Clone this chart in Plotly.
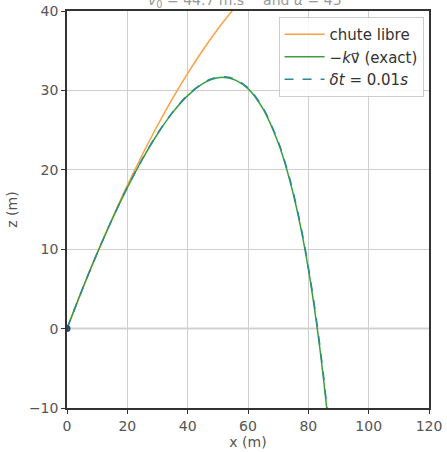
import plotly.graph_objects as go

# Free fall (no drag) trajectory
x_free = [0, 5, 10, 15, 20, 25, 30, 35, 40, 45, 50, 55]
z_free = [0, 4.88, 9.51, 13.90, 18.04, 21.93, 25.58, 28.99, 32.14, 35.06, 37.73, 40.15]

# Linear drag, exact solution
x_drag = [0, 5, 10, 15, 20, 25, 30, 35, 40, 45, 48, 50, 52, 54, 56, 60, 65, 70, 72, 74, 76, 78, 80, 81, 82, 83, 84, 85, 86, 86.1]
z_drag = [0, 4.87, 9.48, 13.78, 17.75, 21.34, 24.51, 27.20, 29.34, 30.84, 31.39, 31.59, 31.64, 31.54, 31.26, 30.22, 27.66, 23.41,
          21.14, 18.47, 15.35, 11.73, 7.53, 5.17, 2.65, -0.09, -3.04, -6.24, -9.69, -10.05]

# Euler scheme, dt = 0.01 s
x_euler = [0, 5, 10, 15, 20, 25, 30, 35, 40, 45, 48, 50, 52, 54, 56, 60, 65, 70, 72, 74, 76, 78, 80, 81, 82, 83, 84, 85, 86, 86.3]
z_euler = [0, 4.87, 9.49, 13.79, 17.77, 21.37, 24.55, 27.25, 29.40, 30.91, 31.46, 31.67, 31.72, 31.63, 31.36, 30.32, 27.78, 23.56,
           21.30, 18.65, 15.55, 11.96, 7.79, 5.45, 2.96, 0.25, -2.67, -5.83, -9.24, -10.05]

x_ticks = [0, 20, 40, 60, 80, 100, 120]
z_ticks = [-10, 0, 10, 20, 30, 40]

FONT = "DejaVu Sans"
TXT = "#555555"

fig = go.Figure()
fig.add_trace(go.Scatter(x=x_free, y=z_free, mode="lines", name="chute libre",
                         line=dict(color="#ffa040", width=1.5), line_shape="spline"))
fig.add_trace(go.Scatter(x=x_drag, y=z_drag, mode="lines", name="−<i>k</i>v⃗ (exact)",
                         line=dict(color="#3aa03a", width=1.5), line_shape="spline"))
fig.add_trace(go.Scatter(x=x_euler, y=z_euler, mode="lines", name="<i>δt</i> = 0.01<i>s</i>",
                         line=dict(color="#2a8a96", width=1.5, dash="dash"), line_shape="spline"))
fig.add_trace(go.Scatter(x=[0], y=[0], mode="markers", showlegend=False,
                         marker=dict(color="#1f4f7f", size=7)))

fig.add_hline(y=0, line=dict(color="#aaaaaa", width=1.5), layer="below")

fig.update_layout(
    width=447, height=452,
    margin=dict(l=67, r=18, t=11, b=44, autoexpand=False),
    paper_bgcolor="white", plot_bgcolor="white",
    font=dict(family=FONT, size=14, color=TXT),
    showlegend=True,
    legend=dict(x=0.985, y=0.985, xanchor="right", yanchor="top",
                bgcolor="rgba(255,255,255,0.85)", bordercolor="#cccccc", borderwidth=1,
                font=dict(family=FONT, size=15, color="#333333"),
                itemwidth=40, tracegroupgap=0),
    annotations=[dict(text="<i>v</i><sub>0</sub> = 44.7 m.s<sup>−1</sup> and <i>α</i> = 45°",
                      xref="paper", yref="paper", x=0.5, y=1, xanchor="center", yanchor="bottom",
                      yshift=-1, showarrow=False, font=dict(family=FONT, size=14, color="#999999"))],
)
fig.update_xaxes(range=[0, 120], tickvals=x_ticks,
                 title=dict(text="x (m)", standoff=2, font=dict(size=14, color="#555555")),
                 automargin=False,
                 showgrid=True, gridcolor="#cfcfcf", gridwidth=1,
                 showline=True, linecolor="#333333", linewidth=1.5, mirror=True,
                 ticks="outside", ticklen=4, tickcolor="#333333", zeroline=False,
                 tickfont=dict(size=14, color=TXT))
fig.update_yaxes(range=[-10, 40], tickvals=z_ticks,
                 title=dict(text="z (m)", standoff=8, font=dict(size=14, color="#555555")),
                 automargin=False,
                 showgrid=True, gridcolor="#cfcfcf", gridwidth=1,
                 showline=True, linecolor="#333333", linewidth=1.5, mirror=True,
                 ticks="outside", ticklen=4, tickcolor="#333333", zeroline=False,
                 tickfont=dict(size=14, color=TXT))

fig.write_html("out.html")
